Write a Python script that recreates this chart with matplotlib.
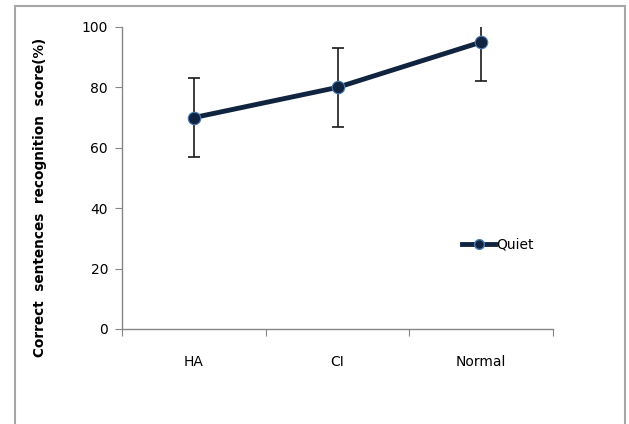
import matplotlib
matplotlib.use("Agg")
import matplotlib.pyplot as plt
from matplotlib.patches import Rectangle
from matplotlib.lines import Line2D

categories = ["HA", "CI", "Normal"]
scores = [70, 80, 95]
errors = [13, 13, 13]
series_label = "Quiet"
y_ticks = [0, 20, 40, 60, 80, 100]

W, H = 629, 424
fig = plt.figure(figsize=(W / 100, H / 100), dpi=100)
plt.rcParams['font.family'] = ['Liberation Sans Narrow', 'DejaVu Sans']

# outer chart frame
fig.patches.append(Rectangle((15 / W, -0.05), (625 - 15) / W, 1.05 - 6 / H,
                             transform=fig.transFigure, fill=False,
                             edgecolor='#a6a6a6', linewidth=1.5))

ax = fig.add_axes([122 / W, 1 - 329 / H, (553 - 122) / W, (329 - 27) / H])
x = [0.5, 1.5, 2.5]
ax.errorbar(x, scores, yerr=errors, fmt='none', ecolor='#1a1a1a',
            elinewidth=1.2, capsize=4, capthick=1.2, zorder=2, clip_on=True)
ax.plot(x, scores, color='#10243f', linewidth=3.5, marker='o', markersize=9,
        markerfacecolor='#10243f', markeredgecolor='#4a7ab5',
        markeredgewidth=0.8, zorder=3, label=series_label)

ax.set_xlim(0, 3)
ax.set_ylim(0, 100)
ax.set_yticks(y_ticks)
ax.set_yticklabels([str(v) for v in y_ticks], fontsize=10)
ax.set_xticks([0, 1, 2, 3])
ax.set_xticklabels([])
ax.set_xticks(x, minor=True)
ax.set_xticklabels(categories, minor=True, fontsize=10)
ax.tick_params(axis='x', which='minor', length=0, pad=19)
ax.tick_params(axis='x', which='major', length=5, direction='out', color='#868686')
ax.tick_params(axis='y', length=5, direction='out', color='#868686', pad=5)
for s in ['top', 'right']:
    ax.spines[s].set_visible(False)
for s in ['left', 'bottom']:
    ax.spines[s].set_color('#868686')
    ax.spines[s].set_linewidth(1)

fig.text(40 / W, 1 - 197 / H, "Correct  sentences  recognition  score(%)",
         rotation=90, ha='center', va='center', fontsize=9.8, fontweight='bold')

leg = ax.legend(handles=[Line2D([], [], color='#10243f', linewidth=3.5, marker='o',
                                markersize=7, markerfacecolor='#10243f',
                                markeredgecolor='#4a7ab5')],
                labels=[series_label], frameon=False, fontsize=10,
                loc='center left', bbox_to_anchor=((455 - 122) / (553 - 122), (329 - 245) / (329 - 27)),
                handlelength=2.4, handletextpad=0.1, borderpad=0)

fig.savefig("out.png", dpi=100)
